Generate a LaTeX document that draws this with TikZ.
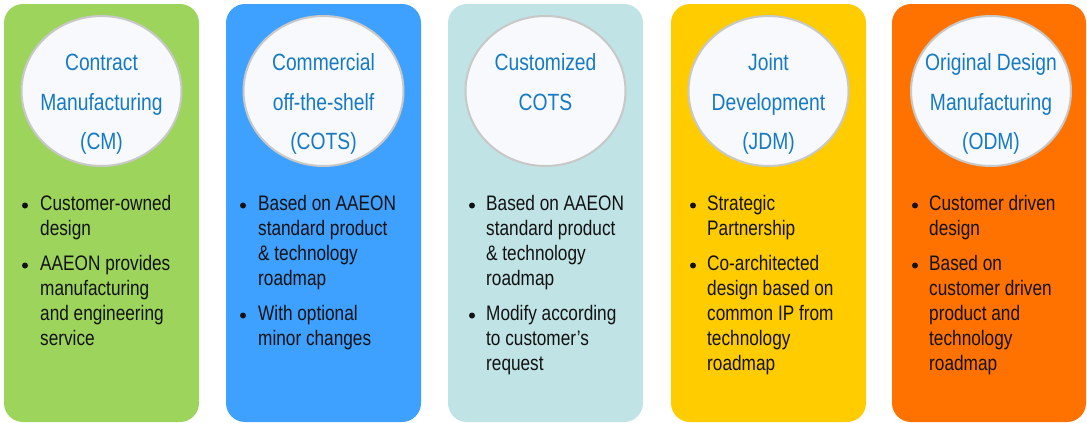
\documentclass[tikz,border=0pt]{standalone}
\usepackage{fontspec}
\setmainfont{Liberation Sans}[FakeStretch=0.82]
\usetikzlibrary{shapes.geometric}
\definecolor{cmgreen}{RGB}{157,213,92}
\definecolor{cotsblue}{RGB}{62,160,255}
\definecolor{custteal}{RGB}{192,227,229}
\definecolor{jdmyellow}{RGB}{255,204,0}
\definecolor{odmorange}{RGB}{255,114,0}
\definecolor{circfill}{RGB}{247,249,252}
\definecolor{circline}{RGB}{200,200,200}
\definecolor{titleblue}{RGB}{21,122,196}
\definecolor{bodyblack}{RGB}{18,18,18}
\begin{document}
\begin{tikzpicture}[x=1pt,y=-1pt,
  colbox/.style={rounded corners=19pt, draw=none},
  headcirc/.style={ellipse, draw=circline, line width=2pt, fill=circfill,
    minimum width=160pt, minimum height=150pt, inner sep=0pt},
  titletext/.style={anchor=base, align=center, text=titleblue,
    font=\fontsize{23.5}{39.5}\selectfont, inner sep=0pt},
  itemtext/.style={anchor=base west, align=left, text=bodyblack,
    font=\fontsize{21}{25}\selectfont, inner sep=0pt},
  dot/.style={circle, fill=bodyblack, inner sep=0pt, minimum size=6pt}]
\useasboundingbox (0,0) rectangle (1087,423);

% columns
\fill[colbox, cmgreen]   (4,4)   rectangle (199,422);
\fill[colbox, cotsblue]  (226,4) rectangle (421,422);
\fill[colbox, custteal]  (448,4) rectangle (643,422);
\fill[colbox, jdmyellow] (671,4) rectangle (866,422);
\fill[colbox, odmorange] (892,4) rectangle (1086,422);

% header circles
\node[headcirc] (c1) at (101.5,91) {};
\node[headcirc] (c2) at (323.5,91) {};
\node[headcirc] (c3) at (545.5,91) {};
\node[headcirc] (c4) at (768.5,91) {};
\node[headcirc] (c5) at (991,91) {};

% titles (anchor = baseline of the last line)
\node[titletext] (t1) at (101.5,149.5) {Contract\\Manufacturing\\(CM)};
\node[titletext] (t2) at (323.5,149.5) {Commercial\\off-the-shelf\\(COTS)};
\node[titletext] (t3) at (545.5,110) {Customized\\COTS};
\node[titletext] (t4) at (768.5,149.5) {Joint\\Development\\(JDM)};
\node[titletext] (t5) at (991,149.5) {Original Design\\Manufacturing\\(ODM)};

% column 1
\node[dot] (b11) at (25,205.5) {};
\node[itemtext] (i11) at (40,235.5) {Customer-owned\\design};
\node[dot] (b12) at (25,265.5) {};
\node[itemtext] (i12) at (40,345.5) {AAEON provides\\manufacturing\\and engineering\\service};

% column 2
\node[dot] (b21) at (243,205.5) {};
\node[itemtext] (i21) at (258,285.5) {Based on AAEON\\standard product\\\& technology\\roadmap};
\node[dot] (b22) at (243,315.5) {};
\node[itemtext] (i22) at (258,345.5) {With optional\\minor changes};

% column 3
\node[dot] (b31) at (472,205.5) {};
\node[itemtext] (i31) at (486,285.5) {Based on AAEON\\standard product\\\& technology\\roadmap};
\node[dot] (b32) at (472,315.5) {};
\node[itemtext] (i32) at (486,370.5) {Modify according\\to customer’s\\request};

% column 4
\node[dot] (b41) at (693,205.5) {};
\node[itemtext] (i41) at (707,235.5) {Strategic\\Partnership};
\node[dot] (b42) at (693,265.5) {};
\node[itemtext] (i42) at (707,370.5) {Co-architected\\design based on\\common IP from\\technology\\roadmap};

% column 5
\node[dot] (b51) at (915,205.5) {};
\node[itemtext] (i51) at (929,235.5) {Customer driven\\design};
\node[dot] (b52) at (915,265.5) {};
\node[itemtext] (i52) at (929,370.5) {Based on\\customer driven\\product and\\technology\\roadmap};
\end{tikzpicture}
\end{document}
